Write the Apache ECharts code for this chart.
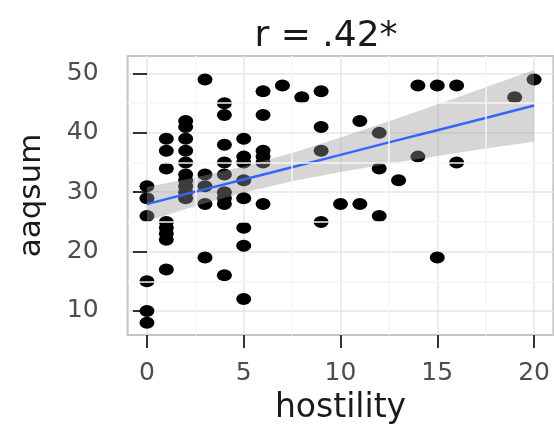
<!DOCTYPE html>
<html>
<head>
<meta charset="utf-8">
<script src="https://cdn.jsdelivr.net/npm/echarts@6/dist/echarts.min.js"></script>
<style>html,body{margin:0;padding:0;background:#fff}#c{width:554px;height:430px}</style>
</head>
<body>
<div id="c"></div>
<script>
// observed points (hostility, aaqsum)
const hostility = [
  0,0,0,0,0,0,
  1,1,1,1,1,1,1,1,
  2,2,2,2,2,2,2,2,2,2,
  3,3,3,3,3,
  4,4,4,4,4,4,4,4,4,
  5,5,5,5,5,5,5,5,
  6,6,6,6,6,6,
  7,8,
  9,9,9,9,
  10,
  11,11,
  12,12,12,
  13,
  14,14,
  15,15,
  16,16,
  19,20
];
const aaqsum = [
  31,29,26,15,10,8,
  39,37,34,25,24,23,22,17,
  42,41,39,37,35,33,32,31,30,29,
  49,33,31,28,19,
  45,43,38,35,33,30,29,28,16,
  39,36,35,32,29,24,21,12,
  47,43,37,36,35,28,
  48,46,
  47,41,37,25,
  28,
  42,28,
  40,34,26,
  32,
  48,36,
  48,19,
  48,35,
  46,49
];
// fitted line and confidence band
const fitX     = [0, 2.5, 5, 7.5, 10, 12.5, 15, 17.5, 20];
const fitY     = [28.0, 30.1, 32.15, 34.2, 36.3, 38.4, 40.45, 42.5, 44.6];
const fitUpper = [30.9, 32.5, 34.35, 36.6, 39.2, 41.95, 44.8, 47.7, 50.6];
const fitLower = [25.1, 27.7, 29.95, 31.85, 33.4, 34.8, 36.1, 37.35, 38.5];
const xTicks = [0, 5, 10, 15, 20];
const yTicks = [10, 20, 30, 40, 50];
const xMinor = [2.5, 7.5, 12.5, 17.5];
const yMinor = [15, 25, 35, 45];
const titleText = 'r = .42*';

const FONT = 'DejaVu Sans';
const points = hostility.map((h, i) => [h, aaqsum[i]]);
const minorLines = xMinor.map(v => ({xAxis: v})).concat(yMinor.map(v => ({yAxis: v})));

const chart = echarts.init(document.getElementById('c'), null, {renderer: 'canvas'});
chart.setOption({
  animation: false,
  backgroundColor: '#ffffff',
  title: {
    text: titleText,
    left: 321, top: 14, textAlign: 'center',
    textStyle: {fontFamily: FONT, fontSize: 36, fontWeight: 'normal', color: '#1a1a1a'}
  },
  grid: {
    left: 127.6, right: 0.6, top: 56, bottom: 87.3,
    show: true, borderColor: '#c4c4c4', borderWidth: 2, backgroundColor: '#ffffff'
  },
  xAxis: {
    type: 'value', min: -1, max: 21,
    name: 'hostility', nameLocation: 'middle', nameGap: 57,
    nameTextStyle: {fontFamily: FONT, fontSize: 33, color: '#1a1a1a'},
    axisLine: {show: false},
    axisTick: {show: true, customValues: xTicks, length: 13, lineStyle: {color: '#333', width: 2}},
    axisLabel: {customValues: xTicks, margin: 26, fontFamily: FONT, fontSize: 25, color: '#4d4d4d'},
    splitLine: {show: true, lineStyle: {color: '#e6e6e6', width: 1.5}}
  },
  yAxis: {
    type: 'value', min: 5.95, max: 52.95,
    name: 'aaqsum', nameLocation: 'middle', nameGap: 80, nameRotate: 90,
    nameTextStyle: {fontFamily: FONT, fontSize: 31, color: '#1a1a1a'},
    axisLine: {show: false},
    axisTick: {show: true, customValues: yTicks, length: 14, lineStyle: {color: '#333', width: 2}},
    axisLabel: {customValues: yTicks, margin: 29, fontFamily: FONT, fontSize: 25, color: '#4d4d4d'},
    splitLine: {show: true, lineStyle: {color: '#e6e6e6', width: 1.5}}
  },
  series: [
    {
      type: 'line', data: [], z: 1, silent: true,
      markLine: {silent: true, symbol: ['none', 'none'], label: {show: false},
        lineStyle: {color: '#f4f4f4', width: 1.5, type: 'solid'}, data: minorLines}
    },
    {
      type: 'scatter', data: points, z: 2,
      symbol: 'circle', symbolSize: [15, 12],
      itemStyle: {color: '#000000', opacity: 1}
    },
    {
      type: 'custom', z: 3, silent: true, data: [0],
      renderItem: function (params, api) {
        const pts = [];
        for (let i = 0; i < fitX.length; i++) pts.push(api.coord([fitX[i], fitUpper[i]]));
        for (let i = fitX.length - 1; i >= 0; i--) pts.push(api.coord([fitX[i], fitLower[i]]));
        return {type: 'polygon', shape: {points: pts}, style: {fill: 'rgba(153,153,153,0.4)'}};
      }
    },
    {
      type: 'line', z: 4, silent: true, showSymbol: false,
      data: fitX.map((x, i) => [x, fitY[i]]),
      lineStyle: {color: '#3366FF', width: 2.5}
    }
  ]
});
</script>
</body>
</html>
